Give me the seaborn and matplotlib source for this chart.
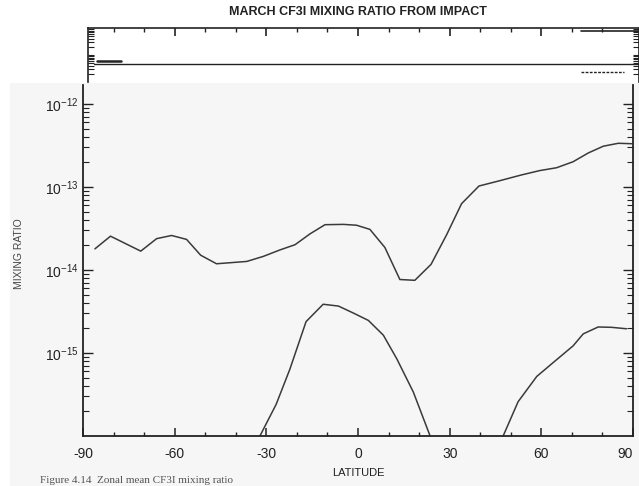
import numpy as np
import pandas as pd
import matplotlib
matplotlib.use("Agg")
import matplotlib.pyplot as plt
from matplotlib.patches import Rectangle
from matplotlib.ticker import FixedLocator, LogLocator, NullFormatter
import seaborn as sns

# zonal mean CF3I mixing ratio
upper_lat = [-86.1, -81.0, -71.1, -65.9, -61.0, -56.1, -51.5, -46.3, -36.4, -31.0,
             -25.5, -20.6, -15.7, -10.8, -4.8, -0.5, 3.9, 8.8, 13.7, 18.6,
             23.9, 29.0, 33.9, 39.6, 45.9, 53.5, 59.5, 65.0, 70.4, 75.4,
             80.3, 85.2, 89.6]
upper_ratio = [1.80e-14, 2.56e-14, 1.69e-14, 2.39e-14, 2.61e-14, 2.34e-14, 1.51e-14,
               1.19e-14, 1.27e-14, 1.46e-14, 1.75e-14, 2.02e-14, 2.73e-14, 3.52e-14,
               3.55e-14, 3.47e-14, 3.09e-14, 1.87e-14, 7.69e-15, 7.52e-15, 1.17e-14,
               2.66e-14, 6.31e-14, 1.03e-13, 1.18e-13, 1.40e-13, 1.58e-13, 1.71e-13,
               2.02e-13, 2.58e-13, 3.11e-13, 3.37e-13, 3.33e-13]

tropic_lat = [-32.1, -26.8, -22.3, -17.0, -11.4, -6.4, -1.5, 3.4, 8.3, 12.7, 18.1, 23.6]
tropic_ratio = [1.0e-16, 2.40e-16, 6.38e-16, 2.39e-15, 3.87e-15, 3.68e-15, 3.03e-15,
                2.47e-15, 1.64e-15, 8.51e-16, 3.39e-16, 1.0e-16]

north_lat = [47.5, 52.4, 58.5, 64.5, 70.4, 73.7, 78.6, 83.0, 87.9]
north_ratio = [1.0e-16, 2.59e-16, 5.22e-16, 8.02e-16, 1.22e-15, 1.70e-15, 2.06e-15,
               2.04e-15, 1.96e-15]

xticks = [-90, -60, -30, 0, 30, 60, 90]
yticks = [1e-15, 1e-14, 1e-13, 1e-12]
ytick_labels = [r"$10^{-15}$", r"$10^{-14}$", r"$10^{-13}$", r"$10^{-12}$"]

df = pd.concat([
    pd.DataFrame({"lat": upper_lat, "ratio": upper_ratio, "seg": "upper"}),
    pd.DataFrame({"lat": tropic_lat, "ratio": tropic_ratio, "seg": "tropic"}),
    pd.DataFrame({"lat": north_lat, "ratio": north_ratio, "seg": "north"}),
])

sns.set_style("ticks")
plt.rcParams["font.family"] = ["Liberation Sans", "DejaVu Sans"]
plt.rcParams["mathtext.default"] = "regular"

W, H = 639, 486
fig = plt.figure(figsize=(W / 100, H / 100), dpi=100)
fig.patch.set_facecolor("white")

# grey scan background of the lower page part
fig.patches.append(Rectangle((10 / W, 0), 1 - 10 / W, 1 - 83 / H,
                             transform=fig.transFigure, facecolor="#f6f6f6",
                             edgecolor="none", zorder=-10))

ink = "#222222"

# main panel
ax = fig.add_axes([83 / W, 1 - 436 / H, 550 / W, 351 / H])
ax.set_facecolor("none")
sns.lineplot(data=df, x="lat", y="ratio", units="seg", estimator=None,
             color="#3a3a3a", lw=1.1, ax=ax, legend=False)
ax.set_yscale("log")
ax.set_xlim(-90, 90)
ax.set_ylim(1e-16, 10 ** -11.77)
ax.spines["top"].set_visible(False)
for s in ["left", "right", "bottom"]:
    ax.spines[s].set_color(ink)
    ax.spines[s].set_linewidth(1.3)

ax.set_xticks(xticks)
ax.set_xticklabels([f"{v}" if v >= 0 else f"-{-v}" for v in xticks])
ax.get_xticklabels()[-1].set_horizontalalignment("right")
ax.xaxis.set_minor_locator(FixedLocator(np.arange(-80, 90, 10)))
ax.set_yticks(yticks)
ax.set_yticklabels(ytick_labels)
ax.yaxis.set_minor_locator(LogLocator(base=10, subs=np.arange(2, 10), numticks=20))
ax.yaxis.set_minor_formatter(NullFormatter())
ax.tick_params(axis="x", which="major", direction="in", length=6, width=1.1,
               color=ink, labelsize=10, pad=8, labelcolor=ink)
ax.tick_params(axis="x", which="minor", direction="in", length=3, width=1.0, color=ink)
ax.tick_params(axis="y", which="major", direction="in", length=7, width=1.0,
               color=ink, labelsize=10, pad=3, labelcolor=ink, right=True)
ax.tick_params(axis="y", which="minor", direction="in", length=4, width=0.8,
               color=ink, right=True)
ax.set_xlabel("LATITUDE", fontsize=8, color=ink, labelpad=5)
ax.set_ylabel("MIXING RATIO", fontsize=7.5, color="#444444")
ax.yaxis.set_label_coords(-0.108, 0.52)

# strip of the panel above, cut off by the page
top = fig.add_axes([88 / W, 1 - 82 / H, 1 - 88 / W, 54 / H])
top.set_facecolor("none")
top.set_xlim(-88.4, 92)
top.set_yscale("log")
top.set_ylim(1e-16, 1e-14)
top.spines["bottom"].set_visible(False)
for s in ["left", "right", "top"]:
    top.spines[s].set_color(ink)
    top.spines[s].set_linewidth(1.2)
top.axhline(10 ** -15.32, xmin=0.01, xmax=1, color=ink, lw=1.0)
top.plot([-85.5, -77.5], [10 ** -15.22] * 2, color=ink, lw=1.8)
top.plot([73, 92], [10 ** -14.1] * 2, color=ink, lw=1.2)
top.plot([73, 87], [10 ** -15.62] * 2, color=ink, lw=1.0, ls=(0, (2, 1)))
top.set_xticks(xticks[1:-1])
top.xaxis.set_minor_locator(FixedLocator(np.arange(-80, 90, 10)))
top.xaxis.tick_top()
top.set_xticklabels([])
top.set_yticks([1e-15])
top.set_yticklabels([])
top.yaxis.set_minor_locator(LogLocator(base=10, subs=np.arange(2, 10), numticks=20))
top.yaxis.set_minor_formatter(NullFormatter())
top.tick_params(axis="x", which="major", direction="in", length=6, width=1.2, color=ink)
top.tick_params(axis="x", which="minor", direction="in", length=3, width=1.0, color=ink)
top.tick_params(axis="y", which="both", direction="in", length=4, width=0.8,
                color=ink, right=True)

fig.text(358 / W, 1 - 12 / H, "MARCH CF3I MIXING RATIO FROM IMPACT",
         ha="center", va="center", fontsize=9, fontweight="bold", color=ink)

# caption line of the page, at the bottom edge
fig.text(40 / W, 1 / H, "Figure 4.14  Zonal mean CF3I mixing ratio",
         ha="left", va="bottom", fontsize=8, color="#555555",
         family=["Liberation Serif", "DejaVu Serif"])

fig.savefig("out.png", dpi=100)
